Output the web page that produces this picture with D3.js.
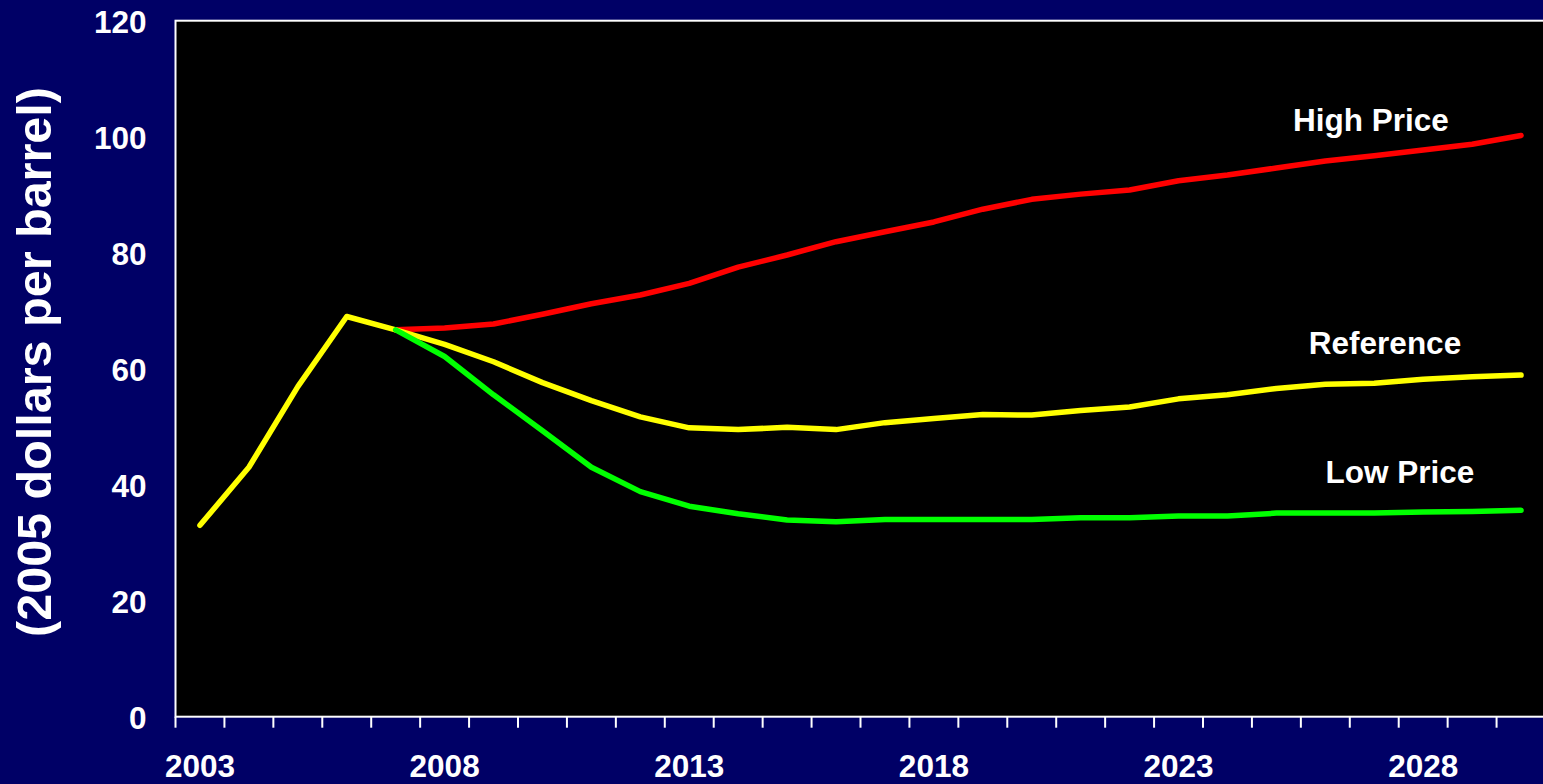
<!DOCTYPE html>
<html>
<head>
<meta charset="utf-8">
<script src="https://cdn.jsdelivr.net/npm/d3@7"></script>
<style>
  html, body { margin: 0; padding: 0; background: #000066; overflow: hidden; }
  svg { display: block; }
  text { font-family: "Liberation Sans", Arial, sans-serif; font-weight: bold; fill: white; }
</style>
</head>
<body>
<div id="chart"></div>
<script>
// oil price cases, 2005 dollars per barrel
var years = d3.range(2003, 2031);
var reference = [33.0, 43.0, 56.9, 69.0, 66.7, 64.2, 61.2, 57.6, 54.5, 51.7, 49.8, 49.5, 49.9, 49.5,
                 50.7, 51.4, 52.1, 52.0, 52.8, 53.4, 54.8, 55.5, 56.6, 57.3, 57.5, 58.2, 58.6, 58.9];
var highPrice = [null, null, null, null, 66.7, 67.0, 67.7, 69.4, 71.2, 72.7, 74.7, 77.5, 79.6, 81.9,
                 83.6, 85.3, 87.5, 89.2, 90.1, 90.8, 92.4, 93.4, 94.6, 95.8, 96.7, 97.7, 98.7, 100.2];
var lowPrice = [null, null, null, null, 66.7, 62.1, 55.5, 49.3, 43.0, 38.8, 36.3, 35.0, 33.9, 33.6,
                34.0, 34.0, 34.0, 34.0, 34.3, 34.3, 34.6, 34.6, 35.1, 35.1, 35.1, 35.3, 35.4, 35.6];
var yTicks = [0, 20, 40, 60, 80, 100, 120];
var xLabels = [2003, 2008, 2013, 2018, 2023, 2028];

var width = 1543, height = 784;
var margin = {top: 20.7, right: -2.5, bottom: 67.3, left: 175.5};
var chartWidth = width - margin.left - margin.right;
var chartHeight = height - margin.top - margin.bottom;

var svg = d3.select("#chart").append("svg")
    .attr("width", width)
    .attr("height", height);

svg.append("rect")
    .attr("width", width).attr("height", height)
    .style("fill", "#000066");

var viz = svg.append("g")
    .attr("transform", "translate(" + margin.left + "," + margin.top + ")");

var xScale = d3.scaleBand().domain(years).range([0, chartWidth]).padding(0);
var yScale = d3.scaleLinear().domain([0, 120]).range([chartHeight, 0]);
var bw = xScale.bandwidth();

// plot area
viz.append("rect")
    .attr("x", 0).attr("y", 0)
    .attr("width", chartWidth).attr("height", chartHeight)
    .style("fill", "black")
    .style("stroke", "white")
    .style("stroke-width", 2);

// y axis labels
var yaxis = viz.append("g")
    .call(d3.axisLeft(yScale).tickValues(yTicks).tickSize(0).tickPadding(29));
yaxis.select(".domain").remove();
yaxis.selectAll(".tick text")
    .attr("font-size", "31.5px")
    .attr("dy", "0.36em")
    .style("fill", "white");

// x axis: labels centred in band, tick marks at band edges
var xaxis = viz.append("g")
    .attr("transform", "translate(0," + chartHeight + ")")
    .call(d3.axisBottom(xScale).tickValues(xLabels).tickSize(0).tickPadding(38));
xaxis.select(".domain").remove();
xaxis.selectAll(".tick text")
    .attr("font-size", "31.5px")
    .style("fill", "white");

xaxis.selectAll(".edge")
    .data(years)
    .enter().append("line")
    .attr("class", "edge")
    .attr("x1", function (d) { return xScale(d); })
    .attr("x2", function (d) { return xScale(d); })
    .attr("y1", 0).attr("y2", 11)
    .style("stroke", "white")
    .style("stroke-width", 2);

var line = d3.line()
    .defined(function (d) { return d.v != null; })
    .x(function (d) { return xScale(d.year) + bw / 2; })
    .y(function (d) { return yScale(d.v); });

function series(vals) {
  return years.map(function (y, i) { return {year: y, v: vals[i]}; });
}

var lines = [
  {vals: highPrice, color: "#ff0000"},
  {vals: reference, color: "#ffff00"},
  {vals: lowPrice, color: "#00ff00"}
];

viz.selectAll(".series")
    .data(lines)
    .enter().append("path")
    .attr("class", "series")
    .attr("d", function (d) { return line(series(d.vals)); })
    .style("fill", "none")
    .style("stroke", function (d) { return d.color; })
    .style("stroke-width", 5.5)
    .style("stroke-linecap", "round")
    .style("stroke-linejoin", "round");

// line labels
var labels = [
  {text: "High Price", x: 1371, y: 131},
  {text: "Reference", x: 1385, y: 354},
  {text: "Low Price", x: 1400, y: 483}
];
svg.selectAll(".lbl")
    .data(labels)
    .enter().append("text")
    .attr("class", "lbl")
    .attr("x", function (d) { return d.x; })
    .attr("y", function (d) { return d.y; })
    .attr("text-anchor", "middle")
    .attr("font-size", "31.5px")
    .text(function (d) { return d.text; });

// y axis title
svg.append("text")
    .attr("transform", "translate(51,362) rotate(-90)")
    .attr("text-anchor", "middle")
    .attr("font-size", "48.5px")
    .text("(2005 dollars per barrel)");
</script>
</body>
</html>
